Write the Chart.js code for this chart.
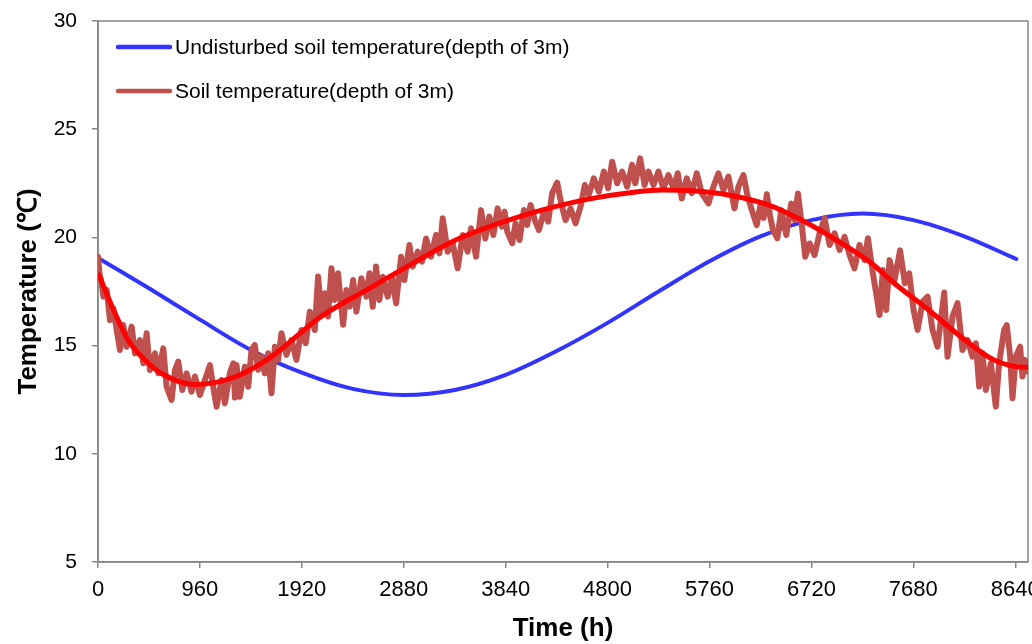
<!DOCTYPE html>
<html><head><meta charset="utf-8">
<script src="https://cdn.jsdelivr.net/npm/chart.js@4.4.0/dist/chart.umd.min.js"></script>
<style>html,body{margin:0;padding:0;background:#fff}#wrap{width:1032px;height:644px;position:relative}</style>
</head><body><div id="wrap"><canvas id="c" width="1032" height="644"></canvas></div>
<script>
const xTicks = [0, 960, 1920, 2880, 3840, 4800, 5760, 6720, 7680, 8640];
const yTicks = [5, 10, 15, 20, 25, 30];
const seriesNames = ["Undisturbed soil temperature(depth of 3m)", "Soil temperature(depth of 3m)"];

const undisturbedHours = [0, 480, 960, 1440, 1920, 2400, 2880, 3360, 3840, 4320, 4800, 5280, 5760, 6240, 6720, 7200, 7680, 8160, 8650];
const undisturbedTemp  = [19.05, 17.65, 16.2, 14.8, 13.75, 13.0, 12.72, 12.95, 13.65, 14.75, 16.05, 17.5, 18.9, 20.05, 20.8, 21.1, 20.8, 20.05, 19.0];

const soilHours = [0, 15, 35, 50, 82, 113, 144, 176, 207, 238, 270, 317, 348, 395, 427, 458, 489, 537, 568, 615, 646, 693, 725, 756, 794, 835, 881, 913, 960, 1007, 1054, 1085, 1117, 1164, 1195, 1242, 1274, 1290, 1305, 1336, 1383, 1415, 1446, 1477, 1509, 1540, 1571, 1603, 1634, 1666, 1697, 1728, 1775, 1822, 1869, 1916, 1957, 1995, 2042, 2073, 2105, 2136, 2167, 2199, 2230, 2261, 2309, 2340, 2371, 2403, 2434, 2481, 2528, 2557, 2588, 2619, 2651, 2682, 2729, 2770, 2808, 2855, 2886, 2933, 2965, 3012, 3052, 3090, 3137, 3184, 3216, 3247, 3294, 3341, 3388, 3435, 3482, 3513, 3561, 3608, 3648, 3686, 3724, 3764, 3805, 3830, 3855, 3902, 3933, 3971, 4012, 4043, 4074, 4115, 4153, 4200, 4241, 4278, 4325, 4366, 4404, 4451, 4498, 4545, 4586, 4623, 4670, 4717, 4765, 4805, 4843, 4890, 4937, 4984, 5031, 5060, 5107, 5148, 5185, 5232, 5279, 5326, 5373, 5420, 5461, 5499, 5546, 5593, 5640, 5687, 5750, 5797, 5844, 5891, 5938, 5995, 6032, 6079, 6120, 6158, 6205, 6240, 6270, 6300, 6330, 6358, 6399, 6436, 6483, 6530, 6562, 6593, 6631, 6662, 6703, 6750, 6797, 6844, 6891, 6938, 6985, 7032, 7079, 7126, 7173, 7220, 7252, 7299, 7330, 7362, 7393, 7424, 7456, 7503, 7555, 7600, 7641, 7682, 7720, 7767, 7814, 7861, 7908, 7971, 8002, 8049, 8096, 8143, 8190, 8237, 8269, 8300, 8331, 8363, 8410, 8457, 8488, 8535, 8560, 8592, 8614, 8645, 8686, 8708, 8730, 8755];
const soilTemp = [19.1, 18.3, 17.88, 17.26, 17.57, 16.18, 16.72, 15.72, 14.8, 15.95, 14.95, 15.88, 14.64, 15.26, 14.18, 15.57, 13.87, 14.64, 13.72, 14.87, 13.1, 12.49, 13.87, 14.26, 12.95, 13.72, 12.87, 13.57, 12.72, 13.41, 14.1, 13.1, 12.18, 13.41, 12.33, 13.72, 14.18, 12.6, 14.1, 12.64, 14.03, 13.1, 14.8, 15.03, 13.88, 14.49, 13.72, 14.65, 12.8, 14.95, 14.34, 15.57, 14.57, 15.26, 14.34, 15.72, 15.11, 16.57, 15.72, 18.19, 16.5, 17.42, 16.34, 18.57, 17.11, 18.34, 15.96, 17.57, 16.8, 18.03, 16.57, 18.11, 17.26, 18.34, 16.8, 18.65, 17.11, 18.18, 17.26, 18.18, 16.95, 19.11, 18.03, 19.65, 18.65, 19.34, 18.88, 19.95, 19.11, 20.11, 19.26, 20.88, 19.34, 19.72, 18.57, 20.11, 19.34, 20.42, 19.11, 21.26, 19.95, 20.96, 20.11, 21.34, 20.49, 21.19, 20.27, 19.73, 20.65, 19.88, 21.27, 20.57, 21.5, 20.8, 20.34, 21.19, 20.73, 22.04, 22.53, 21.5, 20.8, 21.34, 20.65, 21.42, 22.42, 21.96, 22.73, 22.11, 23.04, 22.27, 23.5, 22.5, 23.04, 22.34, 23.35, 22.5, 23.65, 22.42, 23.04, 22.42, 23.04, 22.27, 22.88, 22.27, 22.96, 21.8, 22.73, 22.04, 22.96, 22.04, 21.57, 22.34, 22.96, 22.19, 22.81, 21.34, 22.34, 22.88, 21.88, 21.27, 20.57, 21.5, 20.9, 22.0, 21.0, 20.34, 19.96, 21.26, 20.11, 21.57, 20.8, 22.03, 20.49, 19.11, 19.72, 19.19, 20.19, 20.88, 19.65, 20.19, 19.42, 20.03, 19.19, 18.57, 19.65, 18.95, 19.96, 18.34, 17.41, 16.41, 18.49, 16.64, 18.95, 18.03, 19.4, 17.88, 18.34, 16.65, 15.72, 17.03, 17.26, 15.72, 14.95, 17.45, 14.49, 16.34, 16.96, 14.8, 15.26, 14.49, 15.11, 13.11, 14.65, 12.95, 14.18, 12.18, 14.18, 15.72, 15.95, 14.49, 12.57, 14.49, 14.95, 13.57, 14.34, 13.8];

const trendHours = [0, 94, 188, 282, 442, 602, 913, 1289, 1618, 2089, 2560, 2936, 3369, 3811, 4187, 4620, 5063, 5307, 5627, 5938, 6314, 6625, 7001, 7283, 7500, 7810, 8130, 8441, 8723, 8760];
const trendTemp  = [18.35, 17.25, 16.2, 15.26, 14.33, 13.7, 13.2, 13.55, 14.43, 16.3, 17.66, 18.72, 19.88, 20.71, 21.27, 21.77, 22.1, 22.19, 22.14, 21.96, 21.5, 20.8, 19.74, 18.82, 17.88, 16.7, 15.4, 14.33, 14.0, 14.0];

const toXY = (xs, ys) => xs.map((x, i) => ({x: x, y: ys[i]}));
const FONT = '"Liberation Sans", Arial, sans-serif';
const NARROW = '"Liberation Sans Narrow", "Arial Narrow", "Liberation Sans", Arial, sans-serif';
const BLUE = '#3333FF', BROWN = '#C0504D', RED = '#FF0000', AXIS = '#868686';

const framePlugin = {
  id: 'frame',
  beforeDatasetsDraw(chart) {
    const {ctx, chartArea: a} = chart;
    ctx.save();
    ctx.strokeStyle = AXIS; ctx.lineWidth = 1.5;
    ctx.strokeRect(a.left, a.top, a.right - a.left, a.bottom - a.top);
    ctx.restore();
  },
  afterDatasetsDraw(chart) {
    const {ctx, chartArea: a} = chart;
    const items = [{label: seriesNames[0], color: BLUE, dy: 26}, {label: seriesNames[1], color: BROWN, dy: 70}];
    ctx.save();
    items.forEach(it => {
      const y = a.top + it.dy;
      ctx.strokeStyle = it.color; ctx.lineWidth = 4.5; ctx.lineCap = 'round';
      ctx.beginPath(); ctx.moveTo(a.left + 20, y); ctx.lineTo(a.left + 72, y); ctx.stroke();
      ctx.fillStyle = '#000'; ctx.font = '21px ' + FONT; ctx.textBaseline = 'middle'; ctx.textAlign = 'left';
      ctx.fillText(it.label, a.left + 77, y + 1);
    });
    ctx.restore();
  }
};

new Chart(document.getElementById('c'), {
  type: 'line',
  data: {
    datasets: [
      {label: 'trend', data: toXY(trendHours, trendTemp), borderColor: RED, borderWidth: 5, pointRadius: 0, cubicInterpolationMode: 'monotone', order: 0},
      {label: seriesNames[1], data: toXY(soilHours, soilTemp), borderColor: BROWN, borderWidth: 6, pointRadius: 0, tension: 0, borderJoinStyle: 'round', borderCapStyle: 'round', order: 1},
      {label: seriesNames[0], data: toXY(undisturbedHours, undisturbedTemp), borderColor: BLUE, borderWidth: 4, pointRadius: 0, cubicInterpolationMode: 'monotone', borderCapStyle: 'round', order: 2}
    ]
  },
  options: {
    responsive: false, animation: false, devicePixelRatio: 1,
    layout: {padding: {left: 0, right: 4, top: 21, bottom: 0}},
    plugins: {legend: {display: false}, tooltip: {enabled: false}},
    scales: {
      x: {
        type: 'linear', min: 0, max: 8760,
        afterBuildTicks: s => { s.ticks = xTicks.map(v => ({value: v})); },
        afterFit: s => { s.height = 82; s.paddingLeft = 0; s.paddingRight = 0; },
        ticks: {font: {family: NARROW, size: 22}, color: '#000', padding: 9, maxRotation: 0, autoSkip: false, callback: v => String(v)},
        grid: {drawOnChartArea: false, drawTicks: true, tickLength: 6, color: AXIS, lineWidth: 1.5},
        border: {color: AXIS, width: 1.5},
        title: {display: true, text: 'Time (h)', font: {family: FONT, size: 26, weight: 'bold'}, color: '#000', padding: {top: 0, bottom: 0}}
      },
      y: {
        min: 5, max: 30,
        afterBuildTicks: s => { s.ticks = yTicks.map(v => ({value: v})); },
        afterFit: s => { s.width = 98; s.paddingTop = 0; s.paddingBottom = 0; },
        ticks: {font: {family: FONT, size: 21}, color: '#000', padding: 15, callback: v => String(v)},
        grid: {drawOnChartArea: false, drawTicks: true, tickLength: 6, color: AXIS, lineWidth: 1.5},
        border: {color: AXIS, width: 1.5},
        title: {display: true, text: 'Temperature (℃)', font: {family: FONT, size: 26, weight: 'bold'}, color: '#000', padding: {top: 13, bottom: 4}}
      }
    }
  },
  plugins: [framePlugin]
});
</script></body></html>
